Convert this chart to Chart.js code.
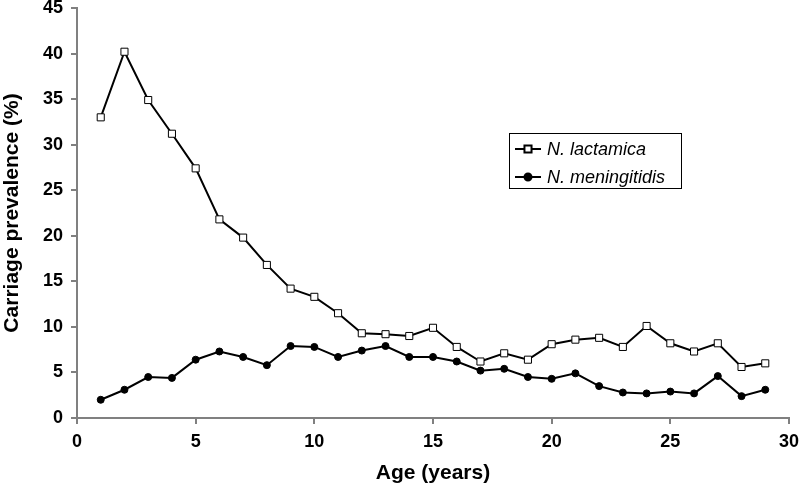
<!DOCTYPE html>
<html>
<head>
<meta charset="utf-8">
<script src="https://cdn.jsdelivr.net/npm/chart.js@4.4.1/dist/chart.umd.min.js"></script>
<style>
    html, body { margin: 0; padding: 0; background: #fff; }
    #wrap { width: 800px; height: 486px; }
</style>
</head>
<body>
<div id="wrap"><canvas id="chart"></canvas></div>
<script>
var ages = [1, 2, 3, 4, 5, 6, 7, 8, 9, 10, 11, 12, 13, 14, 15, 16, 17, 18, 19, 20, 21, 22, 23, 24, 25, 26, 27, 28, 29];
var lactamica = [33.0, 40.2, 34.9, 31.2, 27.4, 21.8, 19.8, 16.8, 14.2, 13.3, 11.5, 9.3, 9.2, 9.0, 9.9, 7.8, 6.2, 7.1, 6.4, 8.1, 8.6, 8.8, 7.8, 10.1, 8.2, 7.3, 8.2, 5.6, 6.0];
var meningitidis = [2.0, 3.1, 4.5, 4.4, 6.4, 7.3, 6.7, 5.8, 7.9, 7.8, 6.7, 7.4, 7.9, 6.7, 6.7, 6.2, 5.2, 5.4, 4.5, 4.3, 4.9, 3.5, 2.8, 2.7, 2.9, 2.7, 4.6, 2.4, 3.1];
var seriesNames = ["N. lactamica", "N. meningitidis"];

var font = "'Liberation Sans', Arial, sans-serif";

function pairs(values) {
    return values.map(function (v, i) { return { x: ages[i], y: v }; });
}

// legend box inside the plot, drawn by hand like the original
var boxLegend = {
    id: "boxLegend",
    afterDraw: function (chart) {
        var ctx = chart.ctx;
        var bx = 509, by = 133, bw = 172, bh = 55;
        ctx.save();
        ctx.fillStyle = "#fff";
        ctx.fillRect(bx, by, bw, bh);
        ctx.strokeStyle = "#000";
        ctx.lineWidth = 1;
        ctx.strokeRect(bx + 0.5, by + 0.5, bw, bh);
        chart.data.datasets.forEach(function (ds, i) {
            var cy = by + 16 + i * 28;
            ctx.strokeStyle = "#000";
            ctx.lineWidth = 2;
            ctx.beginPath();
            ctx.moveTo(515, cy);
            ctx.lineTo(541, cy);
            ctx.stroke();
            Chart.helpers.drawPoint(ctx, {
                pointStyle: ds.pointStyle,
                radius: ds.pointRadius,
                borderWidth: ds.pointBorderWidth
            }, 528, cy);
            ctx.fillStyle = "#000";
            ctx.font = "italic 18px " + font;
            ctx.textBaseline = "middle";
            ctx.fillText(ds.label, 547, cy + 1);
        });
        ctx.restore();
    }
};

new Chart(document.getElementById("chart"), {
    type: "line",
    plugins: [boxLegend],
    data: {
        datasets: [{
            label: seriesNames[0],
            data: pairs(lactamica),
            borderColor: "#000",
            borderWidth: 2,
            pointStyle: "rect",
            pointRadius: 5,
            pointBackgroundColor: "#fff",
            pointBorderColor: "#000",
            pointBorderWidth: 1,
            tension: 0
        }, {
            label: seriesNames[1],
            data: pairs(meningitidis),
            borderColor: "#000",
            borderWidth: 2,
            pointStyle: "circle",
            pointRadius: 3.5,
            pointBackgroundColor: "#000",
            pointBorderColor: "#000",
            pointBorderWidth: 1,
            tension: 0
        }]
    },
    options: {
        responsive: true,
        maintainAspectRatio: false,
        animation: false,
        layout: { padding: { top: 8, right: 11, left: 0, bottom: 0 } },
        plugins: {
            legend: { display: false },
            tooltip: { enabled: false }
        },
        scales: {
            x: {
                type: "linear",
                min: 0,
                max: 30,
                ticks: { stepSize: 5, color: "#000", padding: 7, font: { family: font, size: 18, weight: "bold" } },
                grid: { drawOnChartArea: false, color: "#808080", tickLength: 6, lineWidth: 2 },
                border: { color: "#808080", width: 2 },
                title: { display: true, text: "Age (years)", color: "#000", padding: { top: 4, bottom: 0 }, font: { family: font, size: 21, weight: "bold" } },
                afterFit: function (scale) {
                    scale.height = 68;
                    scale.paddingLeft = 0;
                    scale.paddingRight = 0;
                }
            },
            y: {
                min: 0,
                max: 45,
                ticks: { stepSize: 5, color: "#000", padding: 8, font: { family: font, size: 18, weight: "bold" } },
                grid: { drawOnChartArea: false, color: "#808080", tickLength: 6, lineWidth: 2 },
                border: { color: "#808080", width: 2 },
                title: { display: true, text: "Carriage prevalence (%)", color: "#000", padding: { top: 0, bottom: 0 }, font: { family: font, size: 21, weight: "bold" } },
                afterFit: function (scale) {
                    scale.width = 77;
                    scale.paddingTop = 0;
                    scale.paddingBottom = 0;
                }
            }
        }
    }
});
</script>
</body>
</html>
